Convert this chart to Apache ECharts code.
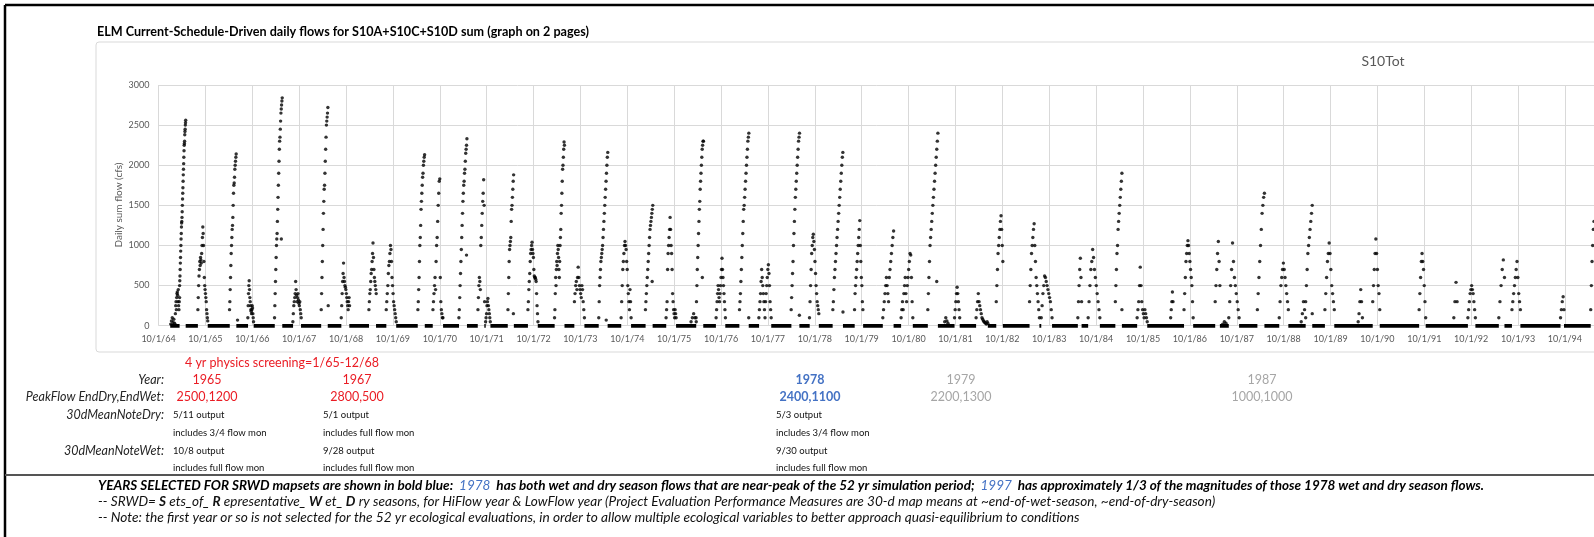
<!DOCTYPE html>
<html>
<head>
<meta charset="utf-8">
<script src="https://cdn.jsdelivr.net/npm/echarts@6/dist/echarts.min.js"></script>
<style>
html,body{margin:0;padding:0;background:#fff;}
#chart{width:1594px;height:537px;}
</style>
</head>
<body>
<div id="chart"></div>
<script>
// ---- DATA (x = years after 10/1/64, y = daily sum flow, cfs) ----
const tickLabels = ['10/1/64','10/1/65','10/1/66','10/1/67','10/1/68','10/1/69','10/1/70','10/1/71','10/1/72','10/1/73','10/1/74','10/1/75','10/1/76','10/1/77','10/1/78','10/1/79','10/1/80','10/1/81','10/1/82','10/1/83','10/1/84','10/1/85','10/1/86','10/1/87','10/1/88','10/1/89','10/1/90','10/1/91','10/1/92','10/1/93','10/1/94'];
const yTicks = [0, 500, 1000, 1500, 2000, 2500, 3000];

// flow events: [from, to, daily readings in order]
const flowEvents = [
 [0.26,0.36,[20,60,100,40,80,30,10]],
 [0.36,0.45,[150,250,300,200,350,400,420,380,300,450,250,200,300,350]],
 [0.45,0.58,[500,560,620,700,780,850,930,1000,1080,1150,1230,1280,1300,1350,1420,1500,1580,1650,1720,1800,1880,1950,2020,2100,2180,2250,2270,2300,2380,2420,2450,2500,2530,2560]],
 [0.84,1.05,[200,350,500,620,700,800,750,850,820,780,900,1000,1100,1230,1150,1000,800,600,500,450,400,350,300,200,150,100,60]],
 [1.515,1.657,[200,300,450,600,750,900,1000,1100,1200,1250,1350,1500,1650,1750,1780,1850,1950,2000,2050,2100,2140]],
 [1.906,2.027,[100,250,400,500,560,450,350,300,250,200,180,150,200,250,220,150,100,50]],
 [2.475,2.639,[100,250,400,550,700,850,1000,1080,1150,1300,1450,1600,1750,1900,2050,2200,2300,2350,2450,2550,2650,2700,2750,2800,2840]],
 [2.866,3.044,[50,150,250,300,350,400,550,450,380,300,350,400,320,280,250,300,200,150,100]],
 [3.471,3.613,[200,400,600,800,1000,1200,1400,1550,1700,1750,1900,2050,2200,2350,2500,2550,2600,2650,2720]],
 [3.898,4.075,[100,250,400,550,650,780,600,550,500,480,450,400,350,300,250,200,300,350,250]],
 [4.488,4.644,[200,300,400,450,550,650,700,800,900,1030,850,700,600,550,500,450,400]],
 [4.858,5.071,[200,300,400,500,650,750,800,900,1000,950,800,600,500,400,300,250,200,150,100,50]],
 [5.533,5.676,[200,300,450,600,800,1000,1100,1250,1450,1550,1650,1750,1850,1900,2000,2050,2100,2130]],
 [5.854,6.067,[200,300,400,500,600,450,800,1000,1100,1300,1500,1650,1800,1830,600,300,200,150,100,100]],
 [6.408,6.579,[100,200,350,500,650,800,950,1100,1250,1400,1550,1650,1750,1800,1900,1950,2050,2150,2200,2250,2330]],
 [6.814,6.956,[200,350,500,600,550,450,1000,1100,1250,1400,1550,1650,1820,1500,300]],
 [6.977,7.077,[50,100,150,250,300,340,250,200,150,100,50]],
 [7.454,7.575,[200,400,600,800,950,1000,1050,1100,1300,1450,1500,1600,1700,1800,1880]],
 [7.880,8.094,[200,300,450,550,650,800,900,950,1000,1040,950,900,850,700,620,600,600,580,550,400,250,150,50]],
 [8.448,8.659,[100,200,400,600,500,700,800,750,900,1000,950,850,700,600,800,1000,1100,1200,1400,1500,1650,1800,1950,2000,2100,2200,2290,2250]],
 [8.872,9.085,[300,400,500,550,450,600,730,600,500,450,400,350,500,450,300,200,100]],
 [9.391,9.583,[100,300,500,600,700,800,850,900,950,1000,1100,1200,1300,1400,1500,1600,1700,1800,1900,2000,2100,2160]],
 [9.868,10.081,[100,300,500,700,800,900,1000,1050,1000,950,800,700,500,400,300,200,450,300,100]],
 [10.387,10.543,[200,300,400,500,600,700,800,900,1000,1100,1200,1250,1300,1350,1400,1450,1500]],
 [10.827,11.041,[100,200,300,700,900,1000,1100,1200,1350,1200,1000,900,700,400,300,200,150,100,200,150,100]],
 [11.36,11.47,[50,100,150,100,50]],
 [11.467,11.624,[100,300,500,700,850,1000,1150,1300,1450,1550,1700,1800,1900,2000,2100,2200,2250,2300,2300]],
 [11.894,12.093,[100,200,300,400,500,450,350,300,400,500,600,700,840,700,600,500,400,300,200,100]],
 [12.393,12.592,[200,300,400,550,700,850,1000,1150,1300,1450,1500,1600,1700,1800,1900,2000,2100,2200,2300,2350,2400]],
 [12.806,13.069,[100,200,300,400,550,700,600,500,400,300,200,100,300,400,500,600,700,760,650,500,300,200,100]],
 [13.495,13.673,[200,350,500,650,800,1000,1150,1300,1450,1600,1700,1800,1900,2000,2100,2200,2300,2350,2400]],
 [13.886,14.085,[100,300,500,700,900,1000,1100,1140,1050,950,800,650,500,400,300,250,200,150]],
 [14.384,14.598,[200,300,450,600,700,800,900,1000,1100,1200,1300,1400,1500,1600,1700,1800,1900,2000,2100,2160]],
 [14.847,15.025,[200,400,500,600,700,800,900,1000,1100,1200,1310,1000,800,600,500,300,200]],
 [15.45,15.68,[100,200,300,400,500,600,500,400,300,600,700,800,900,1000,1100,1180]],
 [15.84,16.09,[100,200,300,200,400,500,600,400,300,500,600,700,800,900,880,600,300,100]],
 [16.41,16.625,[200,400,600,800,1000,1100,1200,1300,1400,1500,1600,1700,1800,1900,2000,2100,2200,2300,2400]],
 [16.77,16.84,[50,100,60,30]],
 [16.98,17.09,[100,200,300,400,480,400,300,200,100]],
 [17.44,17.69,[100,200,300,400,300,250,200,150,100,80,60,50,40,30,20,50,30]],
 [17.87,18.01,[300,500,700,900,1000,1100,1200,1300,1370,1200,1000,800]],
 [18.58,18.79,[300,500,700,900,1000,1100,1200,1270,1000,800,600,500,400,300,200,100]],
 [18.83,19.06,[100,250,400,500,620,600,550,500,450,400,350,300,200,100]],
 [19.61,19.69,[100,300,500,700,840,600,300]],
 [19.83,20.08,[100,300,500,700,800,950,850,700,600,500,400,300,200,100]],
 [20.41,20.55,[300,500,700,900,1000,1200,1300,1400,1500,1600,1700,1800,1900]],
 [20.875,21.09,[100,200,300,500,730,500,300,200,150,100,200,150,100,50]],
 [21.59,21.64,[100,200,300,420,300]],
 [21.875,22.07,[200,400,600,800,900,1000,1060,1000,900,800,700,600,500,300,100]],
 [22.54,22.64,[300,500,700,900,1050,800,500]],
 [22.70,22.77,[20,50,30]],
 [22.83,23.05,[100,300,500,700,1030,800,600,500,400,300,200,100]],
 [23.44,23.59,[200,400,600,800,1000,1200,1400,1500,1600,1650]],
 [23.906,24.10,[100,300,500,600,700,780,700,600,500,400,300,200]],
 [24.375,24.47,[50,150,300,200,100]],
 [24.47,24.61,[300,500,700,900,1000,1100,1200,1300,1400,1500]],
 [24.88,25.08,[200,400,600,800,900,1030,900,700,500,400,300,200]],
 [25.59,25.68,[50,150,300,450,300,100]],
 [25.90,26.05,[300,500,700,900,1080,900,700,500,400,200]],
 [26.89,27.03,[200,400,600,800,900,800,700,500,300,100]],
 [27.63,27.70,[100,300,540,300]],
 [27.93,28.09,[100,200,300,400,450,500,450,400,300,200,100]],
 [28.59,28.71,[100,300,500,700,820,600]],
 [28.87,29.05,[200,300,400,500,600,700,800,600,400,300,200]],
 [29.906,29.98,[100,200,300,360,200]],
 [30.55,30.62,[200,500,800,1000,1200,1300]]
];
// isolated readings
const strayX = [1.686,2.62,3.62,6.57,7.57,9.55,10.53,11.60,12.59,13.67,14.60,16.60,20.55,24.61];
const strayY = [70,1080,250,880,150,70,550,600,100,130,170,550,200,150];
// zero-flow periods [from, to]
const zeroRuns = [[0.25,0.45],[0.58,0.84],[1.05,1.52],[1.66,1.91],[2.03,2.48],[2.64,2.87],[3.04,3.47],[3.61,3.90],[4.07,4.49],[4.64,4.86],[5.07,5.53],[5.68,5.85],[6.07,6.41],[6.58,6.81],[6.95,6.98],[7.08,7.45],[7.58,7.88],[8.09,8.45],[8.66,8.87],[9.085,9.39],[9.58,9.87],[10.08,10.39],[10.54,10.83],[11.04,11.47],[11.62,11.89],[12.09,12.39],[12.59,12.81],[13.07,13.50],[13.67,13.89],[14.085,14.38],[14.60,14.85],[15.03,15.45],[15.68,15.84],[16.09,16.41],[16.625,16.98],[17.09,17.44],[17.69,17.87],[18.01,18.58],[18.79,18.83],[19.06,19.61],[19.69,19.83],[20.08,20.41],[20.55,20.875],[21.09,21.875],[22.07,22.54],[22.64,22.83],[23.05,23.44],[23.59,23.906],[24.10,24.47],[24.61,24.88],[25.08,25.90],[26.05,26.89],[27.03,27.93],[28.09,28.59],[28.71,28.87],[29.05,29.906],[29.98,30.55]];

// annotation table
const rowLabels = ['Year:','PeakFlow EndDry,EndWet:','30dMeanNoteDry:','30dMeanNoteWet:'];
const selYears = ['1965','1967','1978','1979','1987'];
const selPeaks = ['2500,1200','2800,500','2400,1100','2200,1300','1000,1000'];
const dryNotes = ['5/11 output','5/1 output','5/3 output'];
const dryNotes2 = ['includes 3/4 flow mon','includes full flow mon','includes 3/4 flow mon'];
const wetNotes = ['10/8 output','9/28 output','9/30 output'];
const wetNotes2 = ['includes full flow mon','includes full flow mon','includes full flow mon'];

// ---- build ----
const pts = [];
flowEvents.forEach(ev => {
  const a = ev[0], b = ev[1], v = ev[2];
  const n = v.length;
  v.forEach((val, i) => {
    const x = n > 1 ? a + (b - a) * i / (n - 1) : a;
    pts.push([x, val]);
  });
});
strayX.forEach((x, i) => pts.push([x, strayY[i]]));
const zeroLines = zeroRuns.map(r => ({coords: [[r[0], 0], [r[1], 0]]}));

const FF = 'Lato, "Open Sans", sans-serif';
const red = '#ea1c24', blue = '#4472c4', gray = '#a6a6a6', dark = '#262626';
const colX = [207, 357, 810, 961, 1262];
const colColor = [red, red, blue, gray, gray];
const colWeight = ['normal','normal','bold','normal','normal'];
const noteX = [173, 323, 776];
const rowY = [379.5, 397, 415, 450.5];
const incY = [432.5, 468];

function txt(text, x, y, font, fill, align) {
  return {type:'text', style:{text:text, x:x, y:y, font:font, fill:fill, textAlign:align, textVerticalAlign:'middle', align:align, verticalAlign:'middle'}};
}
const g = [];
// outer page frame (top and left)
g.push({type:'line', shape:{x1:5, y1:5, x2:1594, y2:5}, style:{stroke:'#000', lineWidth:2.5}});
g.push({type:'line', shape:{x1:5, y1:5, x2:5, y2:537}, style:{stroke:'#000', lineWidth:2.5}});
// chart frame
g.push({type:'rect', z:-1, shape:{x:96, y:42, width:1520, height:310, r:3}, style:{fill:'none', stroke:'#d9d9d9', lineWidth:1}});
g.push(txt('ELM Current-Schedule-Driven daily flows for S10A+S10C+S10D sum (graph on 2 pages)', 97, 31.5, 'bold 12.6px '+FF, '#000', 'left'));
g.push(txt('S10Tot', 1383, 61, '14px '+FF, '#595959', 'center'));
g.push({type:'text', style:{text:'Daily sum flow (cfs)', x:0, y:0, font:'10px '+FF, fill:'#595959', textAlign:'center', textVerticalAlign:'middle', align:'center', verticalAlign:'middle'}, rotation: Math.PI/2, x:119, y:205});
g.push(txt('4 yr physics screening=1/65-12/68', 282, 362.5, '12.5px '+FF, red, 'center'));
rowLabels.forEach((t, i) => g.push(txt(t, 164, rowY[i], 'italic 12.5px '+FF, dark, 'right')));
selYears.forEach((t, i) => {
  g.push(txt(t, colX[i], rowY[0], colWeight[i]+' 12.5px '+FF, colColor[i], 'center'));
  g.push(txt(selPeaks[i], colX[i], rowY[1], colWeight[i]+' 12.5px '+FF, colColor[i], 'center'));
});
noteX.forEach((x, i) => {
  [[dryNotes[i], rowY[2]], [dryNotes2[i], incY[0]], [wetNotes[i], rowY[3]], [wetNotes2[i], incY[1]]].forEach(p => {
    g.push(txt(p[0], x, p[1], '9.5px '+FF, '#111', 'left'));
  });
});
// separator
g.push({type:'line', shape:{x1:5, y1:475, x2:1594, y2:475}, style:{stroke:'#555', lineWidth:2}});
const bi = {fontStyle:'italic', fontWeight:'bold', fontSize:13.5, fontFamily:FF, fill:'#000', color:'#000'};
const biBlue = {fontStyle:'italic', fontWeight:'normal', fontSize:13.5, fontFamily:FF, fill:blue, color:blue};
const it = {fontStyle:'italic', fontWeight:'normal', fontSize:13.6, fontFamily:FF, fill:'#111', color:'#111'};
const itB = {fontStyle:'italic', fontWeight:'bold', fontSize:13.6, fontFamily:FF, fill:'#111', color:'#111'};
g.push({type:'text', style:{
  text:'{a|YEARS SELECTED FOR SRWD mapsets are shown in bold blue:  }{b|1978}{a|  has both wet and dry season flows that are near-peak of the 52 yr simulation period;  }{b|1997}{a|  has approximately 1/3 of the magnitudes of those 1978 wet and dry season flows.}',
  x:98, y:486, textAlign:'left', textVerticalAlign:'middle', align:'left', verticalAlign:'middle',
  rich:{a:bi, b:biBlue}}});
g.push({type:'text', style:{
  text:'{i|-- SRWD= }{b|S}{i| ets_of_ }{b|R}{i| epresentative_ }{b|W}{i| et_ }{b|D}{i| ry seasons, for HiFlow year & LowFlow year (Project Evaluation Performance Measures are 30-d map means at ~end-of-wet-season, ~end-of-dry-season)}',
  x:98, y:502, textAlign:'left', textVerticalAlign:'middle', align:'left', verticalAlign:'middle',
  rich:{i:it, b:itB}}});
g.push(txt('-- Note: the first year or so is not selected for the 52 yr ecological evaluations, in order to allow multiple ecological variables to better approach quasi-equilibrium to conditions', 98, 518, 'italic 13.7px '+FF, '#111', 'left'));

const chart = echarts.init(document.getElementById('chart'), null, {renderer:'canvas'});
chart.setOption({
  animation:false,
  backgroundColor:'#fff',
  grid:{left:158.5, top:85, right:0, bottom:211.3, containLabel:false},
  xAxis:{type:'value', min:0, max:30.62, interval:1,
    axisLine:{show:false}, axisTick:{show:false},
    axisLabel:{fontSize:9, color:'#595959', fontFamily:FF, margin:9, showMaxLabel:false,
      formatter:v => (Number.isInteger(v) && tickLabels[v]) ? tickLabels[v] : ''},
    splitLine:{show:true, lineStyle:{color:'#d9d9d9', width:1}}},
  yAxis:{type:'value', min:yTicks[0], max:yTicks[yTicks.length-1], interval:500,
    axisLine:{show:false}, axisTick:{show:false},
    axisLabel:{fontSize:9, color:'#595959', fontFamily:FF, margin:9, formatter:v => String(v)},
    splitLine:{show:true, lineStyle:{color:'#d9d9d9', width:1}}},
  series:[
    {type:'lines', coordinateSystem:'cartesian2d', data:zeroLines, silent:true,
      lineStyle:{color:'#000', width:4, opacity:1}, z:3},
    {type:'scatter', data:pts, symbol:'circle', symbolSize:3.4, itemStyle:{color:'#000'}, silent:true, z:4}
  ],
  graphic:g
});
</script>
</body>
</html>
